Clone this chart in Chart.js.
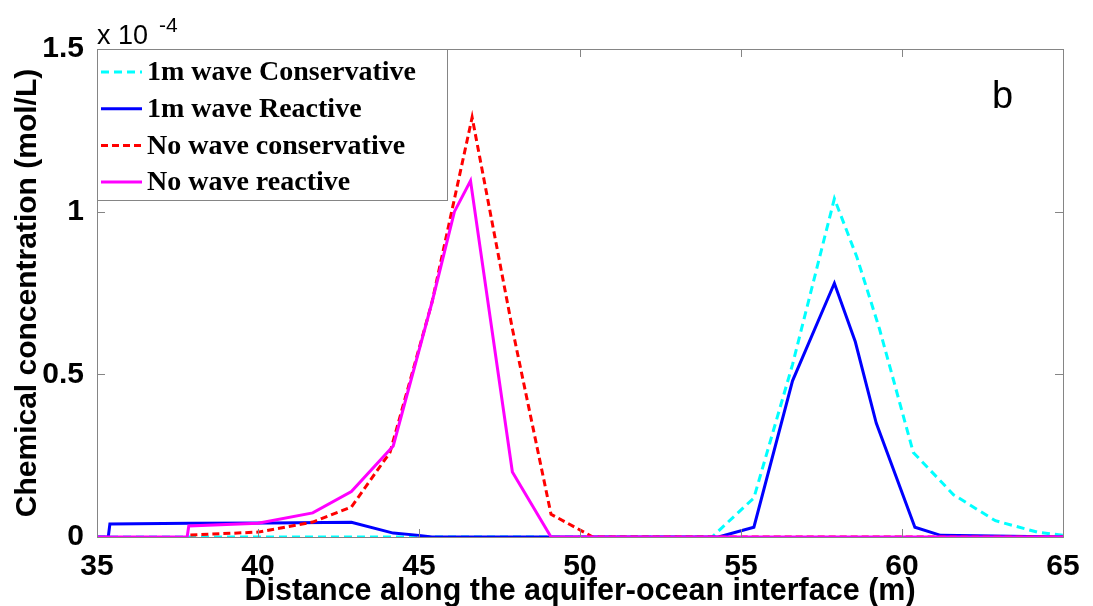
<!DOCTYPE html>
<html lang="en">
<head>
  <meta charset="UTF-8">
  <title>Chemical concentration along the aquifer-ocean interface</title>
  <style>
    body {
      margin: 0;
      padding: 0;
      background-color: #fff;
    }
    .chart-box {
      width: 1093px;
      height: 606px;
    }
  </style>
</head>
<body>
  <div class="chart-box">
    <canvas id="concChart" width="1093" height="606"></canvas>
  </div>

  <script src="https://cdn.jsdelivr.net/npm/chart.js"></script>
  <script>
    // Concentrations are in units of 1e-4 mol/L, distance in m
    const waveConsX = [35, 54.1, 55.4, 56.6, 57.9, 58.6, 59.3, 60.35, 61.6, 62.9, 64.2, 65];
    const waveConsY = [0, 0, 0.12, 0.53, 1.04, 0.86, 0.64, 0.26, 0.13, 0.05, 0.015, 0.005];

    const waveReactX = [35, 35.35, 35.4, 37.9, 40.4, 42.9, 44.2, 45.0, 45.4, 54.3, 55.4, 56.6, 57.9, 58.55, 59.2, 60.4, 61.2, 65];
    const waveReactY = [0, 0, 0.04, 0.042, 0.043, 0.045, 0.012, 0.005, 0, 0, 0.03, 0.48, 0.78, 0.60, 0.35, 0.03, 0.005, 0];

    const calmConsX = [37.9, 40.0, 41.7, 42.9, 44.1, 45.4, 46.65, 47.9, 49.1, 50.4, 65];
    const calmConsY = [0.006, 0.015, 0.046, 0.092, 0.26, 0.72, 1.29, 0.64, 0.07, 0, 0];

    const calmReactX = [35, 37.8, 37.85, 40.0, 41.7, 42.9, 44.2, 45.4, 46.1, 46.6, 47.9, 49.1, 65];
    const calmReactY = [0, 0, 0.034, 0.042, 0.074, 0.14, 0.28, 0.72, 1.0, 1.095, 0.20, 0, 0];

    const seriesNames = ['1m wave Conservative', '1m wave Reactive', 'No wave conservative', 'No wave reactive'];
    const xTicks = [35, 40, 45, 50, 55, 60, 65];
    const yTicks = [0, 0.5, 1, 1.5];

    const axisGrey = '#858585';
    const sans = "'Liberation Sans', Arial, sans-serif";
    const serif = "'Liberation Serif', 'Times New Roman', serif";

    function toPoints(xs, ys) {
      return xs.map((x, i) => ({ x: x, y: ys[i] }));
    }

    // box around the plot, inward ticks on all four sides, legend and labels
    const framePlugin = {
      id: 'frame',
      afterDatasetsDraw(chart) {
        const { ctx, chartArea: a, scales } = chart;
        ctx.save();
        ctx.strokeStyle = axisGrey;
        ctx.lineWidth = 1;
        ctx.beginPath();
        ctx.moveTo(a.left, a.top + 0.5);
        ctx.lineTo(a.right + 0.5, a.top + 0.5);
        ctx.lineTo(a.right + 0.5, a.bottom);
        const len = 8;
        xTicks.forEach(v => {
          const px = Math.round(scales.x.getPixelForValue(v)) + 0.5;
          ctx.moveTo(px, a.bottom);
          ctx.lineTo(px, a.bottom - len);
          ctx.moveTo(px, a.top);
          ctx.lineTo(px, a.top + len);
        });
        yTicks.forEach(v => {
          const py = Math.round(scales.y.getPixelForValue(v)) + 0.5;
          ctx.moveTo(a.left, py);
          ctx.lineTo(a.left + len, py);
          ctx.moveTo(a.right, py);
          ctx.lineTo(a.right - len, py);
        });
        ctx.stroke();
        ctx.restore();
      },
      afterDraw(chart) {
        const { ctx, chartArea: a } = chart;
        ctx.save();

        // legend
        const box = { left: a.left, top: a.top, width: 350, height: 151 };
        ctx.fillStyle = '#fff';
        ctx.fillRect(box.left, box.top, box.width, box.height);
        ctx.strokeStyle = axisGrey;
        ctx.lineWidth = 1;
        ctx.strokeRect(box.left + 0.5, box.top + 0.5, box.width, box.height);
        ctx.font = 'bold 28px ' + serif;
        ctx.textBaseline = 'middle';
        chart.data.datasets.forEach((ds, i) => {
          const y = box.top + 23 + i * 36.7;
          ctx.strokeStyle = ds.borderColor;
          ctx.lineWidth = 3;
          ctx.setLineDash(ds.borderDash || []);
          ctx.beginPath();
          ctx.moveTo(box.left + 4, y);
          ctx.lineTo(box.left + 45, y);
          ctx.stroke();
          ctx.setLineDash([]);
          ctx.fillStyle = '#000';
          ctx.fillText(seriesNames[i], box.left + 50, y + 1);
        });

        // axis multiplier
        ctx.fillStyle = '#000';
        ctx.textBaseline = 'alphabetic';
        ctx.font = '27px ' + sans;
        ctx.fillText('x 10', a.left, a.top - 5);
        ctx.font = '21px ' + sans;
        ctx.fillText('-4', a.left + 62, a.top - 17);

        // panel letter
        ctx.font = '38px ' + sans;
        ctx.fillText('b', 992, 108);
        ctx.restore();
      }
    };

    const ctx = document.getElementById('concChart').getContext('2d');
    const chart = new Chart(ctx, {
      type: 'line',
      data: {
        datasets: [
          {
            label: seriesNames[0],
            data: toPoints(waveConsX, waveConsY),
            borderColor: '#00ffff',
            borderDash: [8, 5],
            borderWidth: 3,
            order: 4
          },
          {
            label: seriesNames[1],
            data: toPoints(waveReactX, waveReactY),
            borderColor: '#0000ff',
            borderWidth: 3,
            order: 3
          },
          {
            label: seriesNames[2],
            data: toPoints(calmConsX, calmConsY),
            borderColor: '#ff0000',
            borderDash: [7, 4],
            borderWidth: 3,
            order: 2
          },
          {
            label: seriesNames[3],
            data: toPoints(calmReactX, calmReactY),
            borderColor: '#ff00ff',
            borderWidth: 3,
            order: 1
          }
        ]
      },
      options: {
        responsive: false,
        animation: false,
        layout: { padding: { top: 49, right: 30, left: 0, bottom: 0 } },
        elements: {
          point: { radius: 0 },
          line: { tension: 0, borderCapStyle: 'butt', borderJoinStyle: 'miter' }
        },
        plugins: {
          legend: { display: false },
          tooltip: { enabled: false }
        },
        scales: {
          x: {
            type: 'linear',
            min: 35,
            max: 65,
            afterFit: s => { s.height = 69; },
            afterBuildTicks: s => { s.ticks = xTicks.map(v => ({ value: v })); },
            grid: { display: false },
            border: { color: axisGrey, width: 1 },
            ticks: {
              color: '#000',
              font: { family: sans, size: 30, weight: 'bold' },
              padding: 4,
              maxRotation: 0,
              autoSkip: false
            },
            title: {
              display: true,
              text: 'Distance along the aquifer-ocean interface (m)',
              color: '#000',
              font: { family: sans, size: 30.5, weight: 'bold' },
              padding: { top: 0, bottom: -4 }
            }
          },
          y: {
            min: 0,
            max: 1.5,
            afterFit: s => { s.width = 97; },
            afterBuildTicks: s => { s.ticks = yTicks.map(v => ({ value: v })); },
            grid: { display: false },
            border: { color: axisGrey, width: 1 },
            ticks: {
              color: '#000',
              font: { family: sans, size: 30, weight: 'bold' },
              padding: 5,
              callback: v => String(v)
            },
            title: {
              display: true,
              text: 'Chemical concentration (mol/L)',
              color: '#000',
              font: { family: sans, size: 30, weight: 'bold' },
              padding: { top: 10, bottom: 0 }
            }
          }
        }
      },
      plugins: [framePlugin]
    });
  </script>
</body>
</html>
